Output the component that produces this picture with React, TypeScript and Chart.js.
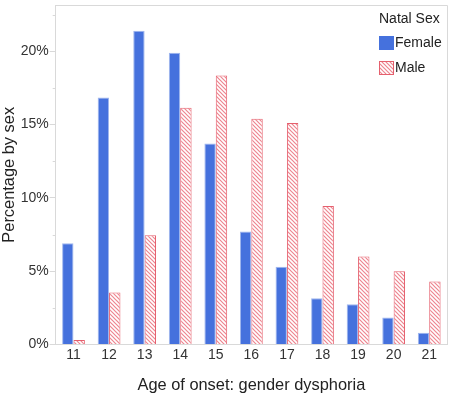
import React, { useEffect, useRef } from 'react';
import { Chart, registerables } from 'chart.js';

Chart.register(...registerables);

const categories = ['11', '12', '13', '14', '15', '16', '17', '18', '19', '20', '21'];
const femaleValues = [6.9, 16.85, 21.4, 19.9, 13.7, 7.7, 5.3, 3.15, 2.75, 1.85, 0.8];
const maleValues = [0.3, 3.55, 7.45, 16.15, 18.35, 15.4, 15.1, 9.45, 6.0, 5.0, 4.3];
const seriesLabels = ['Female', 'Male'];
const legendTitle = 'Natal Sex';
const xTitle = 'Age of onset: gender dysphoria';
const yTitle = 'Percentage by sex';
const yMax = 23.15;
const yTickValues = [0, 2.5, 5, 7.5, 10, 12.5, 15, 17.5, 20, 22.5];

const FONT = 'Liberation Sans, Arial, Helvetica, sans-serif';
const BLUE = '#4571dd';
const RED = '#e5606e';
const AXIS = '#d9d9d9';

function makeHatch(): CanvasPattern | string {
  const c = document.createElement('canvas');
  c.width = 4;
  c.height = 4;
  const g = c.getContext('2d');
  if (!g) return RED;
  g.fillStyle = '#ffffff';
  g.fillRect(0, 0, 4, 4);
  g.strokeStyle = '#ee8590';
  g.lineWidth = 1.2;
  g.beginPath();
  g.moveTo(-1, -1);
  g.lineTo(5, 5);
  g.moveTo(-1, 3);
  g.lineTo(1, 5);
  g.moveTo(3, -1);
  g.lineTo(5, 1);
  g.stroke();
  const p = g.createPattern(c, 'repeat');
  return p || RED;
}

export default function App() {
  const ref = useRef<HTMLCanvasElement | null>(null);

  useEffect(() => {
    const canvas = ref.current;
    if (!canvas) return;
    const hatch = makeHatch();

    const boxPlugin = {
      id: 'boxAndLegend',
      afterDraw(chart: any) {
        const { ctx, chartArea } = chart;
        ctx.save();
        ctx.strokeStyle = AXIS;
        ctx.lineWidth = 1;
        ctx.beginPath();
        ctx.moveTo(chartArea.left, chartArea.top + 0.5);
        ctx.lineTo(chartArea.right + 0.5, chartArea.top + 0.5);
        ctx.lineTo(chartArea.right + 0.5, chartArea.bottom);
        ctx.stroke();

        // minor y ticks (short)
        const ys = chart.scales.y;
        ctx.beginPath();
        yTickValues.forEach((v) => {
          if (v % 5 !== 0) {
            const py = Math.round(ys.getPixelForValue(v)) + 0.5;
            ctx.moveTo(chartArea.left - 3, py);
            ctx.lineTo(chartArea.left, py);
          }
        });
        ctx.stroke();

        // legend
        const xs = 379;
        ctx.fillStyle = '#222';
        ctx.font = `14px ${FONT}`;
        ctx.textBaseline = 'middle';
        ctx.textAlign = 'left';
        ctx.fillText(legendTitle, xs, 19);
        const fills = [BLUE, hatch];
        const strokes = ['#4571dd', RED];
        const yy = [36, 61];
        seriesLabels.forEach((lab, i) => {
          ctx.fillStyle = fills[i] as any;
          ctx.fillRect(xs, yy[i], 15, 14);
          ctx.strokeStyle = strokes[i];
          ctx.lineWidth = 1;
          ctx.strokeRect(xs + 0.5, yy[i] + 0.5, 14, 13);
          ctx.fillStyle = '#222';
          ctx.fillText(lab, xs + 16, yy[i] + 7.5);
        });
        ctx.restore();
      },
    };

    const chart = new Chart(canvas, {
      type: 'bar',
      data: {
        labels: categories,
        datasets: [
          {
            label: seriesLabels[0],
            data: femaleValues,
            backgroundColor: BLUE,
            borderColor: '#9fb6ee',
            borderWidth: 1,
            categoryPercentage: 0.64,
            barPercentage: 1,
          },
          {
            label: seriesLabels[1],
            data: maleValues,
            backgroundColor: hatch as any,
            borderColor: RED,
            borderWidth: 1,
            categoryPercentage: 0.64,
            barPercentage: 1,
          },
        ],
      },
      options: {
        animation: false,
        responsive: false,
        maintainAspectRatio: false,
        layout: { padding: { top: 5, right: 5, left: 0, bottom: 1 } },
        plugins: {
          legend: { display: false },
          tooltip: { enabled: false },
        },
        scales: {
          x: {
            grid: { display: false, drawTicks: false },
            border: { color: AXIS },
            ticks: {
              color: '#333',
              font: { family: FONT, size: 14 },
              padding: 2,
            },
            title: {
              display: true,
              text: xTitle,
              color: '#222',
              font: { family: FONT, size: 16.4 },
              padding: { top: 10, bottom: 4 },
            },
          },
          y: {
            min: 0,
            max: yMax,
            afterBuildTicks: (scale: any) => {
              scale.ticks = yTickValues.map((v) => ({ value: v }));
            },
            afterFit: (scale: any) => {
              scale.paddingTop = 0;
            },
            grid: {
              drawOnChartArea: false,
              color: (c: any) => (c.tick && c.tick.value % 5 === 0 ? AXIS : 'rgba(0,0,0,0)'),
              tickLength: 6,
            },
            border: { color: AXIS },
            ticks: {
              color: '#333',
              font: { family: FONT, size: 14 },
              padding: 1,
              callback: (v: any) => (Number(v) % 5 === 0 ? `${v}%` : ''),
            },
            title: {
              display: true,
              text: yTitle,
              color: '#222',
              font: { family: FONT, size: 16.4 },
              padding: { top: 0, bottom: 0 },
            },
          },
        },
      },
      plugins: [boxPlugin],
    });
    return () => chart.destroy();
  }, []);

  return (
    <div style={{ position: 'fixed', left: 0, top: 0, width: 452, height: 400, background: '#fff' }}>
      <canvas ref={ref} width={452} height={400} />
    </div>
  );
}
